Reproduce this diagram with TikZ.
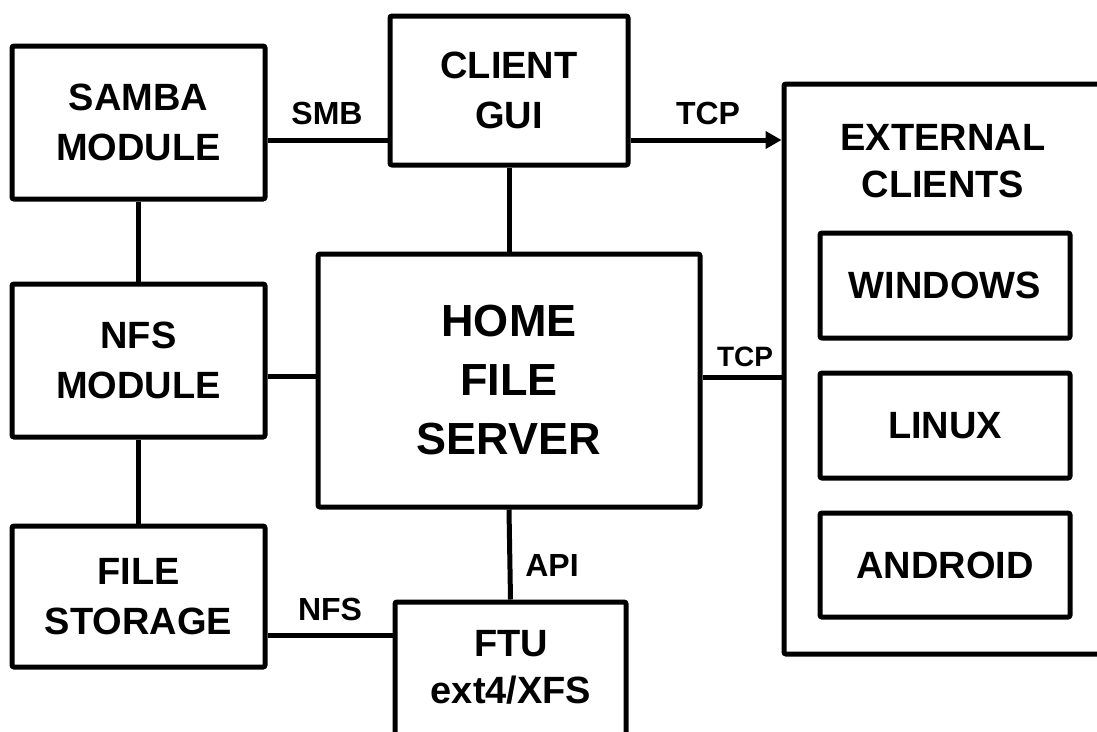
\documentclass[tikz,border=0pt]{standalone}
\usepackage{fontspec}
\setmainfont{Liberation Sans}
\usetikzlibrary{arrows.meta}

\tikzset{
  box/.style={draw, line width=5pt, rounded corners=2pt, align=center,
              inner sep=0pt, font=\fontsize{38}{50}\selectfont\bfseries},
  bigbox/.style={box, font=\fontsize{45}{59}\selectfont\bfseries},
  txt/.style={align=center, inner sep=0pt, font=\fontsize{38}{47}\selectfont\bfseries},
  wire/.style={line width=5pt},
  wirelabel/.style={inner sep=0pt, font=\fontsize{32}{32}\selectfont\bfseries},
}

\begin{document}
\begin{tikzpicture}[x=1pt,y=-1pt]
\useasboundingbox (0,0) rectangle (1097,731);
\fill[white] (0,0) rectangle (1097,731);
\begin{scope}
\clip (0,0) rectangle (1097,731);

% left column of modules
\node[box, minimum width=253pt, minimum height=153pt] (samba) at (138.5,122.5) {SAMBA\\MODULE};
\node[box, minimum width=253pt, minimum height=153pt] (nfs) at (138.5,360.5) {NFS\\MODULE};
\node[box, minimum width=253pt, minimum height=141pt] (storage) at (138.5,596.5) {FILE\\STORAGE};

% centre column
\node[box, minimum width=238pt, minimum height=149pt] (client) at (509,90.5) {CLIENT\\GUI};
\node[bigbox, minimum width=382pt, minimum height=253pt] (server) at (509,380.5) {HOME\\FILE\\SERVER};
\node[box, minimum width=231pt, minimum height=158pt] (ftu) at (510.5,681) {};
\node[txt] (ftutext) at (511,667) {FTU\\ext4/XFS};

% external clients group
\node[box, minimum width=326pt, minimum height=570pt] (ext) at (947,369) {};
\node[txt] (exttext) at (943,161) {EXTERNAL\\CLIENTS};
\node[box, minimum width=250pt, minimum height=105pt] (win) at (945,285.5) {WINDOWS};
\node[box, minimum width=250pt, minimum height=105pt] (linux) at (945,425.5) {LINUX};
\node[box, minimum width=250pt, minimum height=104pt] (android) at (945,565) {ANDROID};

% rows used by horizontal connectors
\coordinate (rowTop) at (0,140);
\coordinate (rowNfs) at (0,376);
\coordinate (rowSrv) at (0,377);
\coordinate (rowSto) at (0,635);

% connectors
\draw[wire] (samba.south) -- (nfs.north);
\draw[wire] (nfs.south) -- (storage.north);
\draw[wire] (samba.east |- rowTop) -- (client.west |- rowTop);
\draw[wire, -{Triangle[length=16pt,width=17pt]}] (client.east |- rowTop) -- (ext.west |- rowTop);
\draw[wire] (client.south) -- (server.north);
\draw[wire] (nfs.east |- rowNfs) -- (server.west |- rowNfs);
\draw[wire] (server.east |- rowSrv) -- (ext.west |- rowSrv);
\draw[wire] (server.south) -- (ftu.north);
\draw[wire] (storage.east |- rowSto) -- (ftu.west |- rowSto);

% connector labels
\node[wirelabel] (lsmb) at (327,113) {SMB};
\node[wirelabel] (ltcp1) at (708,113) {TCP};
\node[wirelabel, font=\fontsize{28}{28}\selectfont\bfseries] (ltcp2) at (745,357) {TCP};
\node[wirelabel] (lnfs) at (330,609) {NFS};
\node[wirelabel] (lapi) at (552,565) {API};
\end{scope}
\end{tikzpicture}
\end{document}
